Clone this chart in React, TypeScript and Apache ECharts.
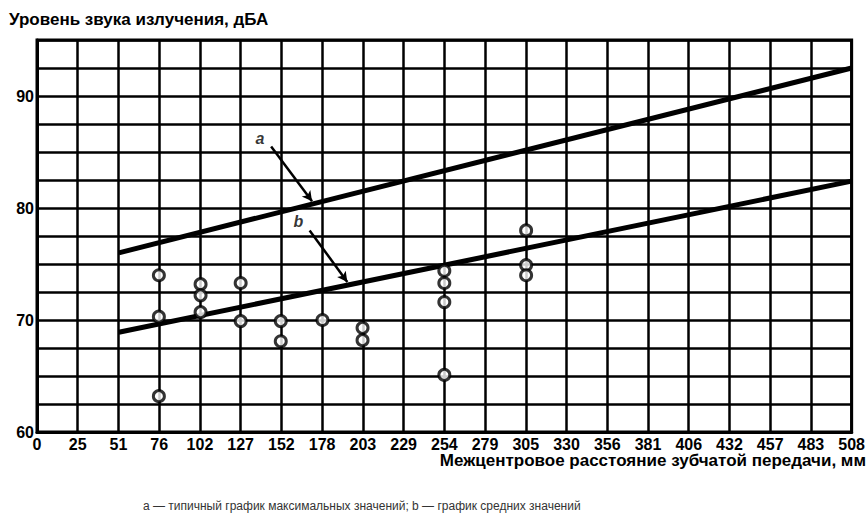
import React, { useEffect, useRef } from "react";
import * as echarts from "echarts";

const xTickLabels = ["0", "25", "51", "76", "102", "127", "152", "178", "203", "229", "254", "279", "305", "330", "356", "381", "406", "432", "457", "483", "508"];
const yTickLabels: Record<string, string> = { "60": "60", "70": "70", "80": "80", "90": "90" };

const pointsX = [76, 76, 76, 102, 102, 102, 127, 127, 152, 152, 178, 203, 203, 254, 254, 254, 254, 305, 305, 305];
const pointsY = [74.0, 70.3, 63.2, 73.2, 72.2, 70.7, 73.3, 69.9, 69.9, 68.1, 70.0, 69.3, 68.2, 74.4, 73.3, 71.6, 65.1, 78.0, 74.9, 74.0];

const lineAX = [51, 508];
const lineAY = [76.0, 92.5];
const lineBX = [51, 508];
const lineBY = [68.9, 82.4];

const arrowA = [[146, 85.5], [171.5, 80.6]];
const arrowB = [[170, 78.0], [193.5, 73.4]];
const labelNames = ["a", "b"];
const labelPos = [[139, 86.2], [163, 78.8]];

const title = "Уровень звука излучения, дБА";
const xName = "Межцентровое расстояние зубчатой передачи, мм";
const footer = "a — типичный график максимальных значений; b — график средних значений";

export default function App() {
  const ref = useRef<HTMLDivElement>(null);
  useEffect(() => {
    if (!ref.current) return;
    const chart = echarts.init(ref.current, null, { renderer: "svg" });
    const font = "'Liberation Sans', Arial, sans-serif";
    const step = 25.4;
    chart.setOption({
      animation: false,
      backgroundColor: "#fff",
      grid: { left: 37, right: 16, top: 40, bottom: 84, show: true, borderColor: "#000", borderWidth: 3 },
      xAxis: {
        type: "value",
        min: 0,
        max: 508,
        interval: step,
        axisLine: { show: true, lineStyle: { color: "#000", width: 3 } },
        axisTick: { show: false },
        splitLine: { show: true, lineStyle: { color: "#000", width: 2.5 } },
        axisLabel: {
          color: "#000",
          fontFamily: font,
          fontWeight: "bold",
          fontSize: 16,
          margin: 4,
          formatter: (v: number) => xTickLabels[Math.round(v / step)] ?? "",
        },
      },
      yAxis: {
        type: "value",
        min: 60,
        max: 95,
        interval: 2.5,
        axisLine: { show: true, lineStyle: { color: "#000", width: 3 } },
        axisTick: { show: false },
        splitLine: { show: true, lineStyle: { color: "#000", width: 2.5 } },
        axisLabel: {
          color: "#000",
          fontFamily: font,
          fontWeight: "bold",
          fontSize: 16,
          margin: 3,
          formatter: (v: number) => yTickLabels[String(v)] ?? "",
        },
      },
      graphic: [
        {
          type: "text",
          left: 9,
          top: 11,
          style: { text: title, fill: "#000", font: `bold 17px ${font}` },
        },
        {
          type: "text",
          right: 2,
          top: 452,
          style: { text: xName, fill: "#000", font: `bold 17px ${font}` },
        },
        {
          type: "text",
          left: 143,
          top: 500,
          style: { text: footer, fill: "#333", font: `12px ${font}` },
        },
      ],
      series: [
        {
          type: "line",
          data: lineAX.map((x, i) => [x, lineAY[i]]),
          symbol: "none",
          lineStyle: { color: "#000", width: 5 },
          z: 5,
          markLine: {
            silent: true,
            symbol: ["none", "arrow"],
            symbolSize: [8, 10],
            label: { show: false },
            lineStyle: { color: "#000", width: 2.5, type: "solid" },
            data: [
              [{ coord: arrowA[0] }, { coord: arrowA[1] }],
              [{ coord: arrowB[0] }, { coord: arrowB[1] }],
            ],
          },
        },
        {
          type: "line",
          data: lineBX.map((x, i) => [x, lineBY[i]]),
          symbol: "none",
          lineStyle: { color: "#000", width: 5 },
          z: 5,
        },
        {
          type: "scatter",
          data: pointsX.map((x, i) => [x, pointsY[i]]),
          symbol: "circle",
          symbolSize: 11,
          itemStyle: { color: "#fff", borderColor: "#000", borderWidth: 3 },
          z: 10,
        },
        {
          type: "scatter",
          data: labelPos.map((p, i) => ({ value: p, name: labelNames[i] })),
          symbolSize: 0,
          label: {
            show: true,
            position: "inside",
            formatter: (p: any) => p.name,
            color: "#000",
            fontFamily: font,
            fontWeight: "bold",
            fontStyle: "italic",
            fontSize: 16,
          },
          z: 10,
        },
      ],
    });
    return () => chart.dispose();
  }, []);
  return <div ref={ref} style={{ width: 868, height: 516, position: "absolute", left: 0, top: 0 }} />;
}
